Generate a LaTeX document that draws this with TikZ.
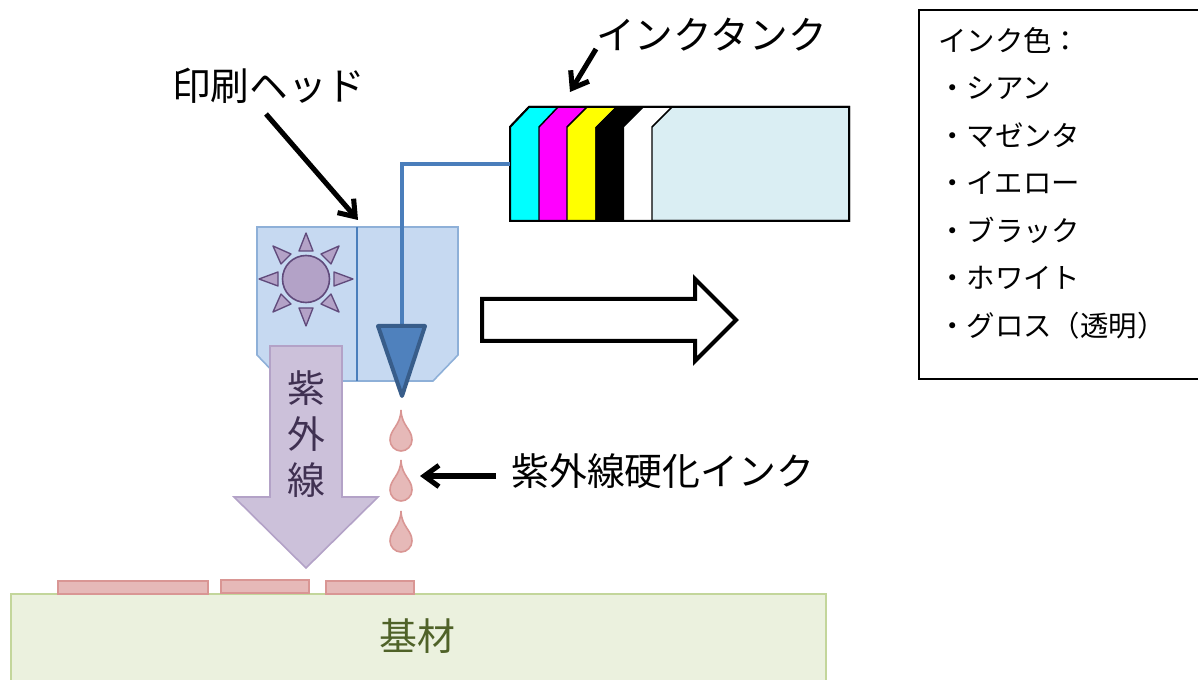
\documentclass[tikz,border=0pt]{standalone}
\usepackage{fontspec}
\setmainfont{Noto Sans CJK JP}
\usetikzlibrary{arrows.meta,calc}
\definecolor{headfill}{HTML}{C6D9F1}
\definecolor{headline}{HTML}{8EB0D8}
\definecolor{pipe}{HTML}{4A7EBB}
\definecolor{nozzlefill}{HTML}{4F81BD}
\definecolor{nozzleline}{HTML}{385D8A}
\definecolor{sunfill}{HTML}{B3A2C7}
\definecolor{sunline}{HTML}{604A7B}
\definecolor{uvfill}{HTML}{CCC1DA}
\definecolor{uvline}{HTML}{B3A2C7}
\definecolor{uvtext}{HTML}{403152}
\definecolor{inkfill}{HTML}{E6B9B8}
\definecolor{inkline}{HTML}{D99694}
\definecolor{basefill}{HTML}{EBF1DE}
\definecolor{baseline}{HTML}{C3D69B}
\definecolor{basetext}{HTML}{4F6228}
\definecolor{tankfill}{HTML}{DAEEF3}
\definecolor{inkcyan}{HTML}{00FFFF}
\definecolor{inkmagenta}{HTML}{FF00FF}
\definecolor{inkyellow}{HTML}{FFFF00}
\tikzset{
  x=0.75pt,y=-0.75pt,
  big/.style={inner sep=0pt,font=\fontsize{28.4pt}{32pt}\selectfont},
  bigger/.style={inner sep=0pt,font=\fontsize{29pt}{32pt}\selectfont},
  legend/.style={inner sep=0pt,anchor=west,font=\fontsize{21.3pt}{25pt}\selectfont},
  callout/.style={line width=3.8pt,-{Straight Barb[length=11pt,width=16pt,line width=3.8pt]},black},
  ray/.style={fill=sunfill,draw=sunline,line width=1pt,line join=round},
  drop/.style={fill=inkfill,draw=inkline,line width=1.2pt},
  film/.style={fill=inkfill,draw=inkline,line width=1.2pt},
  slot/.style={draw=black,line width=1.1pt},
}
\newcommand{\inkdrop}[3]{% name, x, tip y
  \draw[drop] (#2,#3) .. controls (#2+0.5,#3+16) and (#2+11,#3+19) .. (#2+11,#3+30)
    .. controls (#2+11,#3+36) and (#2+6,#3+41) .. (#2,#3+41)
    .. controls (#2-6,#3+41) and (#2-11,#3+36) .. (#2-11,#3+30)
    .. controls (#2-11,#3+19) and (#2-0.5,#3+16) .. (#2,#3) -- cycle;
  \coordinate (#1) at (#2,#3+20);
}
\begin{document}
\begin{tikzpicture}
\useasboundingbox (0,0) rectangle (1198,680);
\clip (0,0) rectangle (1198,680);

% substrate
\draw[fill=basefill,draw=baseline,line width=1.2pt] (11,594) rectangle (826,690);
\node[big,text=basetext] (base) at (417,636) {基材};
\draw[film] (58,581) rectangle (208,594);
\draw[film] (221,580) rectangle (309,593);
\draw[film] (326,581) rectangle (414,594);

% head
\draw[fill=headfill,draw=headline,line width=1.2pt] (257,227) -- (458,227) -- (458,355) -- (433,381) -- (282,381) -- (257,355) -- cycle;
\draw[pipe,line width=1.2pt] (357,227) -- (357,381);

% sun
\node[circle,fill=sunfill,draw=sunline,line width=1.2pt,minimum size=47pt*0.75,inner sep=0pt] (sun) at (306,279) {};
\draw[ray] (306,233) -- (313,251) -- (299,251) -- cycle;
\draw[ray] (306,326) -- (313,308) -- (299,308) -- cycle;
\draw[ray] (259,279) -- (278,272) -- (278,286) -- cycle;
\draw[ray] (353,279) -- (334,272) -- (334,286) -- cycle;
\draw[ray] (273,246) -- (291,254) -- (281,264) -- cycle;
\draw[ray] (339,246) -- (321,254) -- (331,264) -- cycle;
\draw[ray] (273,312) -- (291,304) -- (281,294) -- cycle;
\draw[ray] (339,312) -- (321,304) -- (331,294) -- cycle;

% UV arrow
\draw[fill=uvfill,draw=uvline,line width=1.2pt,line join=miter] (270,346) -- (342,346) -- (342,497) -- (378,497) -- (306,568) -- (234,497) -- (270,497) -- cycle;
\node[inner sep=0pt,text=uvtext,align=center,font=\fontsize{28.4pt}{34.5pt}\selectfont] (uv) at (306,434) {紫\\外\\線};

% ink tank
\draw[fill=tankfill,draw=black,line width=1.5pt] (510,127) -- (529,107) -- (849,107) -- (849,221) -- (510,221) -- cycle;
\fill[white] (624,127) -- (644,107) -- (672,107) -- (652,127) -- (652,221) -- (624,221) -- cycle;
\fill[black] (595,127) -- (615,107) -- (644,107) -- (624,127) -- (624,221) -- (595,221) -- cycle;
\fill[inkyellow] (567,127) -- (587,107) -- (615,107) -- (595,127) -- (595,221) -- (567,221) -- cycle;
\fill[inkmagenta] (539,127) -- (558,107) -- (587,107) -- (567,127) -- (567,221) -- (539,221) -- cycle;
\fill[inkcyan] (510,127) -- (529,107) -- (558,107) -- (539,127) -- (539,221) -- (510,221) -- cycle;
\draw[slot] (539,221) -- (539,127) -- (558,107);
\draw[slot] (567,221) -- (567,127) -- (587,107);
\draw[slot] (652,221) -- (652,127) -- (672,107);
\draw[draw=black,line width=1.5pt] (510,127) -- (529,107) -- (849,107) -- (849,221) -- (510,221) -- cycle;
\coordinate (tankport) at (510,164);

% nozzle and feed pipe
\coordinate (nozzletop) at (402,326);
\draw[pipe,line width=3.4pt,line join=miter] (tankport) -- (402,164) -- (nozzletop);
\draw[fill=nozzlefill,draw=nozzleline,line width=3pt,line join=round] (378,326) -- (425,326) -- (402,396) -- cycle;

% drops
\inkdrop{dropa}{401}{410}
\inkdrop{dropb}{401}{460}
\inkdrop{dropc}{401}{511}

% travel arrow
\draw[fill=white,draw=black,line width=3pt,line join=miter] (482,299) -- (695,299) -- (695,279) -- (736,320) -- (695,361) -- (695,341) -- (482,341) -- cycle;

% labels and callouts
\node[bigger,anchor=west] (tanklabel) at (596,35) {インクタンク};
\node[bigger,anchor=west] (headlabel) at (172,86) {印刷ヘッド};
\node[big,anchor=west] (inklabel) at (511,471) {紫外線硬化インク};
\coordinate (tankfrom) at (596,49);
\coordinate (tankto) at (570,92);
\coordinate (headfrom) at (266,114);
\coordinate (headto) at (358,220);
\coordinate (inkfrom) at (496,476);
\coordinate (inkto) at (420,476);
\draw[callout] (tankfrom) -- (tankto);
\draw[callout] (headfrom) -- (headto);
\draw[callout] (inkfrom) -- (inkto);

% legend
\draw[draw=black,line width=0.9pt,fill=white] (919,10) rectangle (1210,379);
\node[legend] (l0) at (938,41) {インク色：};
\node[legend] (l1) at (938,88) {・シアン};
\node[legend] (l2) at (938,135) {・マゼンタ};
\node[legend] (l3) at (938,183) {・イエロー};
\node[legend] (l4) at (938,230) {・ブラック};
\node[legend] (l5) at (938,278) {・ホワイト};
\node[legend] (l6) at (938,326) {・グロス（透明）};
\end{tikzpicture}
\end{document}
